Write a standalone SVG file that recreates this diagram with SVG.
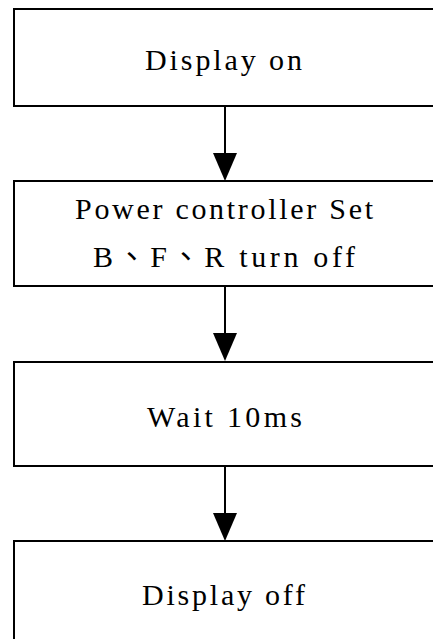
<svg xmlns="http://www.w3.org/2000/svg" width="433" height="639" viewBox="0 0 433 639">
  <defs>
    <style>
      .box { fill: #ffffff; stroke: #000000; stroke-width: 2; }
      .lbl { font-family: "Liberation Serif", "Noto Sans CJK TC", serif; font-size: 30px; fill: #000000; }
      .conn { stroke: #000000; stroke-width: 2; fill: none; }
      .head { fill: #000000; stroke: none; }
    </style>
  </defs>
  <rect width="433" height="639" fill="#ffffff"/>
  <g id="connectors">
    <line class="conn" x1="225" y1="106" x2="225" y2="156"/>
    <polygon class="head" points="213,153 237,153 225,181"/>
    <line class="conn" x1="225" y1="286" x2="225" y2="336"/>
    <polygon class="head" points="213,333 237,333 225,361"/>
    <line class="conn" x1="225" y1="466" x2="225" y2="516"/>
    <polygon class="head" points="213,513 237,513 225,541"/>
  </g>
  <g id="node-display-on">
    <rect class="box" x="14" y="9" width="440" height="97"/>
    <text class="lbl" x="145" y="70" textLength="157" lengthAdjust="spacing">Display on</text>
  </g>
  <g id="node-power-controller">
    <rect class="box" x="14" y="181" width="440" height="105"/>
    <text class="lbl" x="75" y="219" textLength="298" lengthAdjust="spacing">Power controller Set</text>
    <text class="lbl" x="93" y="267" textLength="262" lengthAdjust="spacing">B、F、R turn off</text>
  </g>
  <g id="node-wait">
    <rect class="box" x="14" y="362" width="440" height="104"/>
    <text class="lbl" x="147" y="427" textLength="155" lengthAdjust="spacing">Wait 10ms</text>
  </g>
  <g id="node-display-off">
    <rect class="box" x="14" y="541" width="440" height="120"/>
    <text class="lbl" x="142" y="605" textLength="163" lengthAdjust="spacing">Display off</text>
  </g>
</svg>
